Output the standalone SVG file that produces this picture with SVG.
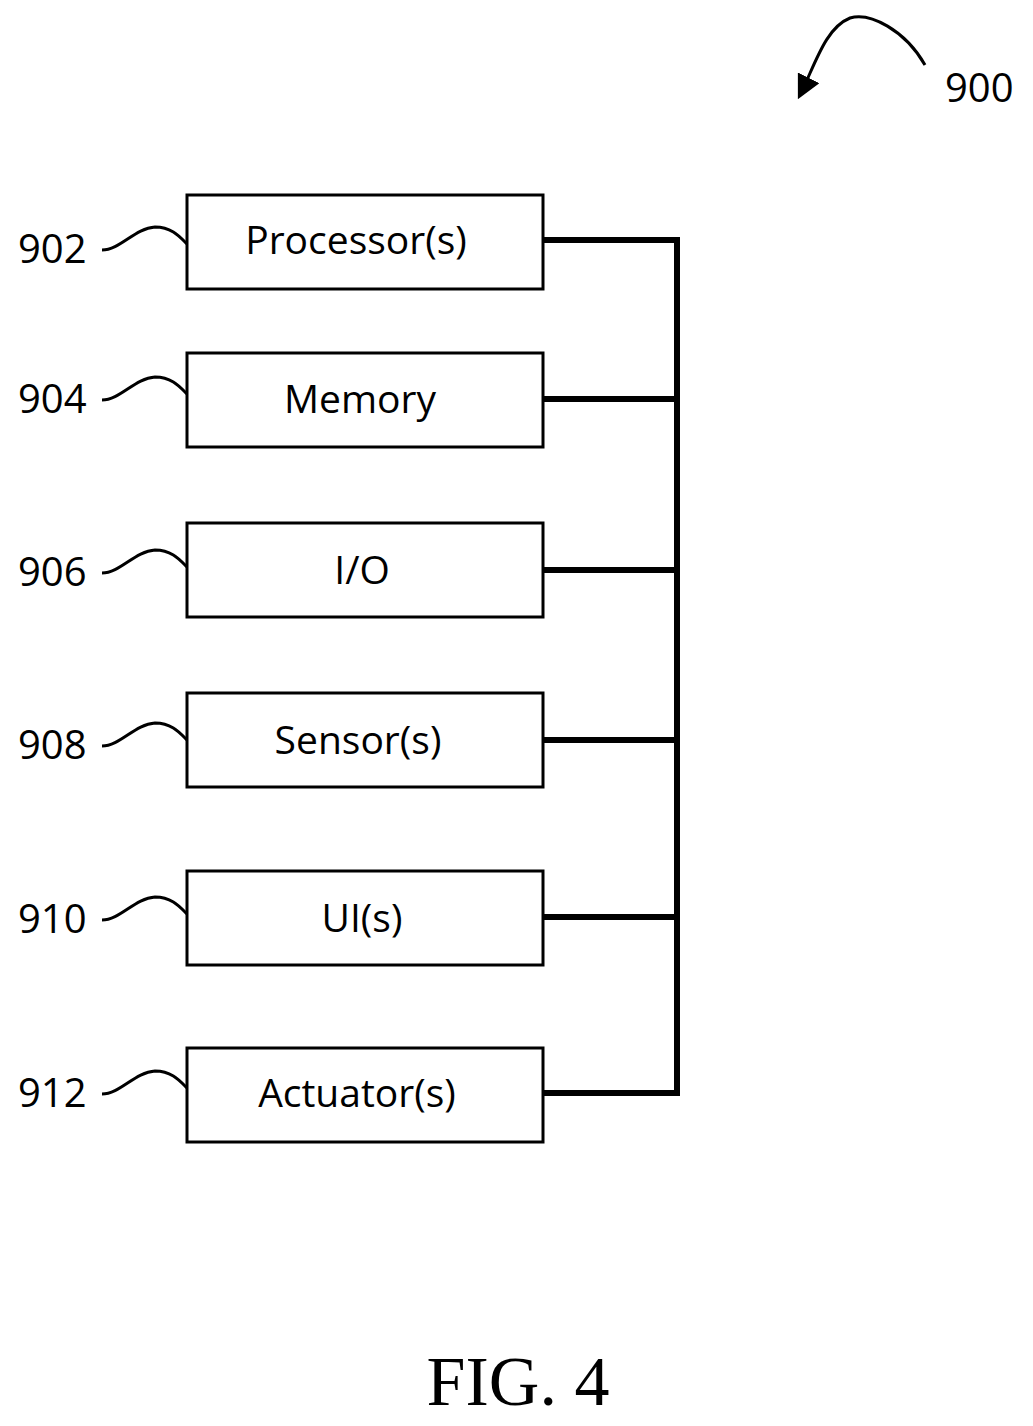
<svg xmlns="http://www.w3.org/2000/svg" width="1033" height="1426" viewBox="0 0 1033 1426">
<style>
.b{fill:#fff;stroke:#000;stroke-width:3}
.t{font-family:"Open Sans","Liberation Sans",sans-serif;font-size:39px;text-anchor:middle}
.r{font-family:"Open Sans","Liberation Sans",sans-serif;font-size:40px}
.l{fill:none;stroke:#000;stroke-width:3}
.c{fill:none;stroke:#000;stroke-width:6}
</style>
<defs><marker id="a" viewBox="0 0 10 10" refX="8" refY="5" markerWidth="8" markerHeight="8" orient="auto" markerUnits="strokeWidth"><path d="M0,0L10,5L0,10z"/></marker></defs>
<g id="ref900">
<path class="l" d="M925,65 C905,30 870,12 850,18 C825,28 815,65 800,95" marker-end="url(#a)"/>
<text class="r" x="945" y="102">900</text>
</g>
<g id="connectors">
<path class="c" d="M543,240H677V1093H543M543,399H677M543,570H677M543,740H677M543,917H677"/>
</g>
<g id="n902"><rect class="b" x="187" y="195" width="356" height="94"/><text class="t" x="356" y="254">Processor(s)</text><text class="r" x="18" y="263">902</text><path class="l" d="M102,250C120,250 135,228 155,227C172,227 180,237 187,244"/></g>
<g id="n904"><rect class="b" x="187" y="353" width="356" height="94"/><text class="t" x="360" y="413">Memory</text><text class="r" x="18" y="413">904</text><path class="l" d="M102,400C120,400 135,378 155,377C172,377 180,387 187,394"/></g>
<g id="n906"><rect class="b" x="187" y="523" width="356" height="94"/><text class="t" x="362" y="584">I/O</text><text class="r" x="18" y="586">906</text><path class="l" d="M102,573C120,573 135,551 155,550C172,550 180,560 187,567"/></g>
<g id="n908"><rect class="b" x="187" y="693" width="356" height="94"/><text class="t" x="358" y="754">Sensor(s)</text><text class="r" x="18" y="759">908</text><path class="l" d="M102,746C120,746 135,724 155,723C172,723 180,733 187,740"/></g>
<g id="n910"><rect class="b" x="187" y="871" width="356" height="94"/><text class="t" x="362" y="932">UI(s)</text><text class="r" x="18" y="933">910</text><path class="l" d="M102,920C120,920 135,898 155,897C172,897 180,907 187,914"/></g>
<g id="n912"><rect class="b" x="187" y="1048" width="356" height="94"/><text class="t" x="357" y="1107">Actuator(s)</text><text class="r" x="18" y="1107">912</text><path class="l" d="M102,1094C120,1094 135,1072 155,1071C172,1071 180,1081 187,1088"/></g>
<text x="518" y="1405" style="font-family:'Liberation Serif',serif;font-size:70px;text-anchor:middle">FIG. 4</text>
</svg>
